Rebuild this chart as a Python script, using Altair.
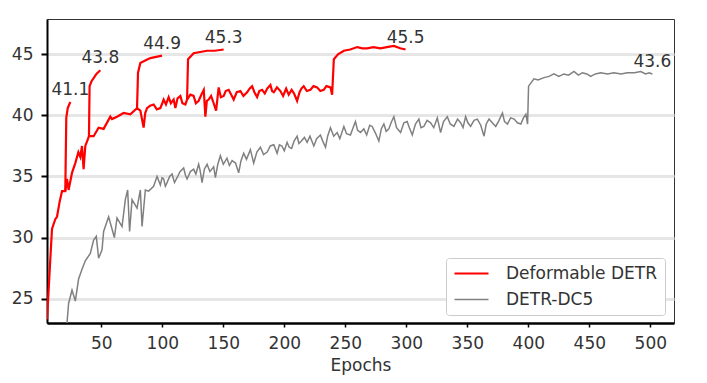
import altair as alt
import pandas as pd

series_names = ["Deformable DETR", "DETR-DC5"]
series_colors = ["#ff0000", "#808080"]
series_widths = [2.2, 1.5]

# Deformable DETR main training run (continues to 300 epochs after lr drop at 240)
detr_epochs = [5.5, 8.2, 9.6, 12.3, 13.7, 15.8, 17.8, 20.5, 21.9, 23.2, 26, 28.7, 31.2, 32.8, 34.2, 35.5,
               36.9, 38.8, 39.9, 43.7, 47.8, 51.9, 57.4, 58.8, 62.9, 68.3, 73.8, 79.3, 82, 84.7, 86, 87.5,
               90, 92.9, 95.5, 98.4, 100, 101.1, 103, 105.2, 107, 109.3, 110.7, 112.5, 114.8, 116.5, 118.9,
               120.3, 123, 125.7, 127.5, 129.8, 132, 134, 135.3, 136.5, 138, 140, 142.1, 144.1, 146.2, 148,
               150.3, 152, 154.4, 156.5, 158.5, 161, 164, 166.5, 169.5, 171.5, 173.6, 175.5, 177.7, 179.5,
               181.8, 184, 186, 188.6, 190, 191.4, 194, 196.8, 199, 201.5, 203.6, 206, 208, 210.5, 212.5,
               214, 215.9, 218.5, 221.4, 224, 226.9, 229.5, 232.3, 234.5, 237.8, 239.2,
               240.6, 244, 248.8, 254, 259.8, 264, 267.9, 273, 278.8, 284, 289.8, 295, 299.4]
detr_ap = [23.3, 28.2, 30.7, 31.5, 31.7, 32.9, 33.8, 33.8, 34.8, 33.9, 35.3, 36.1, 37.0, 36.6, 37.5, 35.6,
           37.5, 38.0, 38.3, 38.3, 39.0, 38.9, 39.9, 39.7, 39.9, 40.2, 40.1, 40.6, 40.4, 39.0, 40.2, 40.6,
           40.8, 40.9, 40.5, 40.6, 41.0, 41.3, 40.9, 41.5, 41.0, 41.3, 40.6, 41.4, 41.6, 41.0, 40.9,
           41.3, 41.7, 41.6, 41.0, 41.2, 41.7, 42.1, 39.9, 41.2, 41.3, 41.6, 41.0, 40.4, 42.3, 41.5,
           41.6, 42.0, 42.1, 41.7, 41.3, 41.9, 42.0, 41.6, 41.9, 42.2, 42.4, 41.9, 41.5, 42.0,
           42.1, 41.8, 42.2, 42.5, 42.0, 41.9, 42.3, 42.0, 41.6, 42.2, 41.7, 42.1, 41.8, 41.2, 41.9,
           42.2, 42.4, 42.0, 42.1, 42.4, 42.3, 42.0, 42.1, 42.4, 42.3, 41.7,
           44.6, 45.0, 45.3, 45.4, 45.6, 45.5, 45.5, 45.6, 45.5, 45.6, 45.7, 45.5, 45.4]

# learning-rate-drop branches of Deformable DETR
b1_epochs = [20.5, 21.3, 22.5, 24.6]
b1_ap = [33.8, 39.8, 40.6, 41.1]
b2_epochs = [39.9, 40.4, 42, 44, 46, 49.2]
b2_ap = [38.3, 42.4, 42.8, 43.1, 43.4, 43.7]
b3_epochs = [79.3, 80.1, 82, 86, 90.2, 95, 99.8]
b3_ap = [40.6, 43.5, 44.3, 44.5, 44.7, 44.8, 44.9]
b4_epochs = [120.3, 121.1, 125.7, 131, 136.7, 143, 150.3]
b4_ap = [41.3, 44.6, 45.1, 45.2, 45.3, 45.3, 45.4]

# DETR-DC5
dc5_epochs = [21.9, 23.2, 26, 28.7, 31.4, 34.2, 36.9, 41, 43.7, 45.9, 47.8, 50.6, 51.9, 56, 58.8, 60.7,
              62.9, 67, 69.7, 71.6, 73.2, 75.2, 79.3, 82, 83.4, 86.1, 88.8, 92.9, 95.7, 98.4, 99.8, 101.1,
              102.5, 103.9, 106, 108, 110, 112.1, 114.5, 117.5, 119, 120.3, 123, 125.7, 127.5, 129.8, 131,
              132.6, 134.5, 136.7, 139, 142.1, 143.5, 145.5, 147.6, 150, 153, 155, 157.2, 160, 162.6,
              164.5, 166.7, 169, 172.2, 174.9, 177.5, 180.4, 183, 186, 188.5, 191.4, 194.1, 196, 198, 200,
              202.3, 204, 206, 208, 210.5, 212, 214, 216.5, 218.7, 221, 224.2, 226.5, 229.6, 231.5,
              233.8, 235.5, 237.8, 240.5, 243.3, 245.5, 248.8, 251, 254.2, 256, 258.3, 260, 262.4,
              265.2, 267.5, 270, 272, 274.5, 277.5, 279.5, 281.6, 283.5, 285.7, 287.5, 289.8, 292,
              295.3, 298, 300.7, 302.5, 304.9, 307.5, 310.3, 312, 314.4, 317, 319.9, 322.5, 325.4,
              328.1, 330.5, 333.6, 336, 339, 342, 344.5, 346.5, 348.6, 350.5, 352.7, 355.5, 358.2,
              361, 363.7, 365.5, 367.8, 370.5, 373.3, 376, 378.8, 380.5, 382.9, 385.5, 388.4, 391,
              393.9, 396, 398, 399.4, 400.2, 404.6,
              408, 412.8, 417, 421, 425, 429.2, 433, 437.4, 441, 444.3, 448, 451.1, 455, 459.3, 465,
              470.2, 476, 481.2, 487, 492.1, 496.2, 499, 501.7]
dc5_ap = [23.0, 24.6, 25.7, 24.8, 26.6, 27.4, 28.1, 28.7, 29.8, 30.1, 28.3, 29.0, 30.5, 31.7, 30.7, 30.0,
          31.6, 30.9, 33.1, 33.9, 30.5, 33.1, 32.4, 33.9, 30.9, 33.9, 33.8, 34.2, 35.0, 34.3, 34.9, 34.8,
          34.2, 34.5, 35.0, 35.2, 34.5, 34.9, 35.4, 35.7, 35.1, 34.8, 35.4, 35.6, 35.2, 36.0, 35.5,
          34.5, 35.6, 36.0, 35.4, 35.8, 34.9, 36.0, 36.7, 36.0, 36.5, 35.9, 36.3, 36.1, 35.3,
          36.3, 36.9, 36.4, 37.2, 36.1, 37.0, 37.4, 36.8, 37.0, 37.5, 37.6, 36.9, 37.6, 37.5, 37.1,
          37.8, 37.4, 37.3, 37.9, 38.3, 37.7, 37.9, 38.2, 37.8, 38.3, 37.5, 38.1, 38.4, 37.9,
          37.4, 38.3, 39.0, 38.3, 38.6, 38.1, 39.1, 38.5, 38.4, 38.9, 39.5, 38.8, 38.6,
          38.9, 38.4, 39.2, 39.1, 38.6, 37.9, 38.9, 39.3, 38.7, 38.9, 39.4, 39.9, 39.0,
          38.6, 39.4, 39.5, 39.0, 38.4, 39.3, 39.7, 39.0, 39.1, 39.6, 39.4, 39.0, 39.8,
          38.6, 39.5, 39.9, 39.3, 39.1, 39.7, 39.4, 39.0, 39.9, 39.4, 39.1, 39.6, 39.7,
          39.2, 38.3, 39.3, 39.7, 39.4, 39.1, 39.6, 40.2, 39.5, 39.3, 39.8, 39.7, 39.4,
          39.3, 39.8, 40.1, 39.3, 42.4, 43.0,
          42.9, 43.1, 43.2, 43.4, 43.2, 43.4, 43.3, 43.6, 43.3, 43.5, 43.4, 43.2, 43.4, 43.5, 43.4,
          43.5, 43.4, 43.5, 43.5, 43.6, 43.4, 43.5, 43.4]

# end-of-run annotations
label_epochs = [24.6, 49.2, 99.8, 150.3, 299.4, 501.7]
label_ap = [41.1, 43.7, 44.9, 45.4, 45.4, 43.4]
label_texts = ["41.1", "43.8", "44.9", "45.3", "45.5", "43.6"]

x_ticks = [50, 100, 150, 200, 250, 300, 350, 400, 450, 500]
y_ticks = [25, 30, 35, 40, 45]

segments = [
    ("DETR-DC5", "dc5", dc5_epochs, dc5_ap),
    ("Deformable DETR", "main", detr_epochs, detr_ap),
    ("Deformable DETR", "b1", b1_epochs, b1_ap),
    ("Deformable DETR", "b2", b2_epochs, b2_ap),
    ("Deformable DETR", "b3", b3_epochs, b3_ap),
    ("Deformable DETR", "b4", b4_epochs, b4_ap),
]
rows = []
for s, seg, ep, ap in segments:
    for e, a in zip(ep, ap):
        rows.append({"series": s, "segment": seg, "epoch": e, "ap": a})
df = pd.DataFrame(rows)
labels_df = pd.DataFrame({"epoch": label_epochs, "ap": label_ap, "label": label_texts})

FONT = "DejaVu Sans"
xscale = alt.Scale(domain=[5.5, 519.4], nice=False, zero=False)
yscale = alt.Scale(domain=[23.0, 47.9], nice=False, zero=False)

lines = alt.Chart(df).mark_line(clip=True).encode(
    x=alt.X("epoch:Q", scale=xscale,
            axis=alt.Axis(values=x_ticks, title="Epochs", grid=False)),
    y=alt.Y("ap:Q", scale=yscale,
            axis=alt.Axis(values=y_ticks, title=None, grid=True)),
    color=alt.Color("series:N",
                    scale=alt.Scale(domain=series_names, range=series_colors),
                    legend=alt.Legend(title=None, orient="none", legendX=399, legendY=239)),
    strokeWidth=alt.StrokeWidth("series:N",
                                scale=alt.Scale(domain=series_names, range=series_widths),
                                legend=alt.Legend(title=None, orient="none", legendX=399, legendY=239)),
    detail="segment:N",
)

texts = alt.Chart(labels_df).mark_text(
    dy=-12, fontSize=17, font=FONT, color="#333333", align="center", baseline="middle"
).encode(
    x=alt.X("epoch:Q", scale=xscale),
    y=alt.Y("ap:Q", scale=yscale),
    text="label:N",
)

chart = alt.layer(lines, texts).properties(
    width=627, height=304,
    autosize=alt.AutoSizeParams(type="none"),
    padding={"left": 39, "top": 11, "right": 25, "bottom": 52},
).configure_view(
    stroke="#333333", strokeWidth=1
).configure_axis(
    labelFont=FONT, labelFontSize=17, labelColor="#333333",
    titleFont=FONT, titleFontSize=17, titleFontWeight="normal", titleColor="#333333",
    domainColor="black", tickColor="black",
).configure_axisX(
    domainWidth=2.5, tickWidth=1.5, tickSize=4, labelPadding=8, titlePadding=6,
).configure_axisY(
    domainWidth=2, tickWidth=2, tickSize=6, labelPadding=8,
    gridColor="#e6e6e6", gridWidth=3,
).configure_legend(
    strokeColor="#cccccc", fillColor="white", cornerRadius=3, padding=7,
    labelFont=FONT, labelFontSize=17, labelColor="#333333",
    symbolType="stroke", symbolSize=1156, labelOffset=16, clipHeight=17, rowPadding=8,
)

chart.save("out.html", embed_options={"renderer": "svg", "actions": False})
